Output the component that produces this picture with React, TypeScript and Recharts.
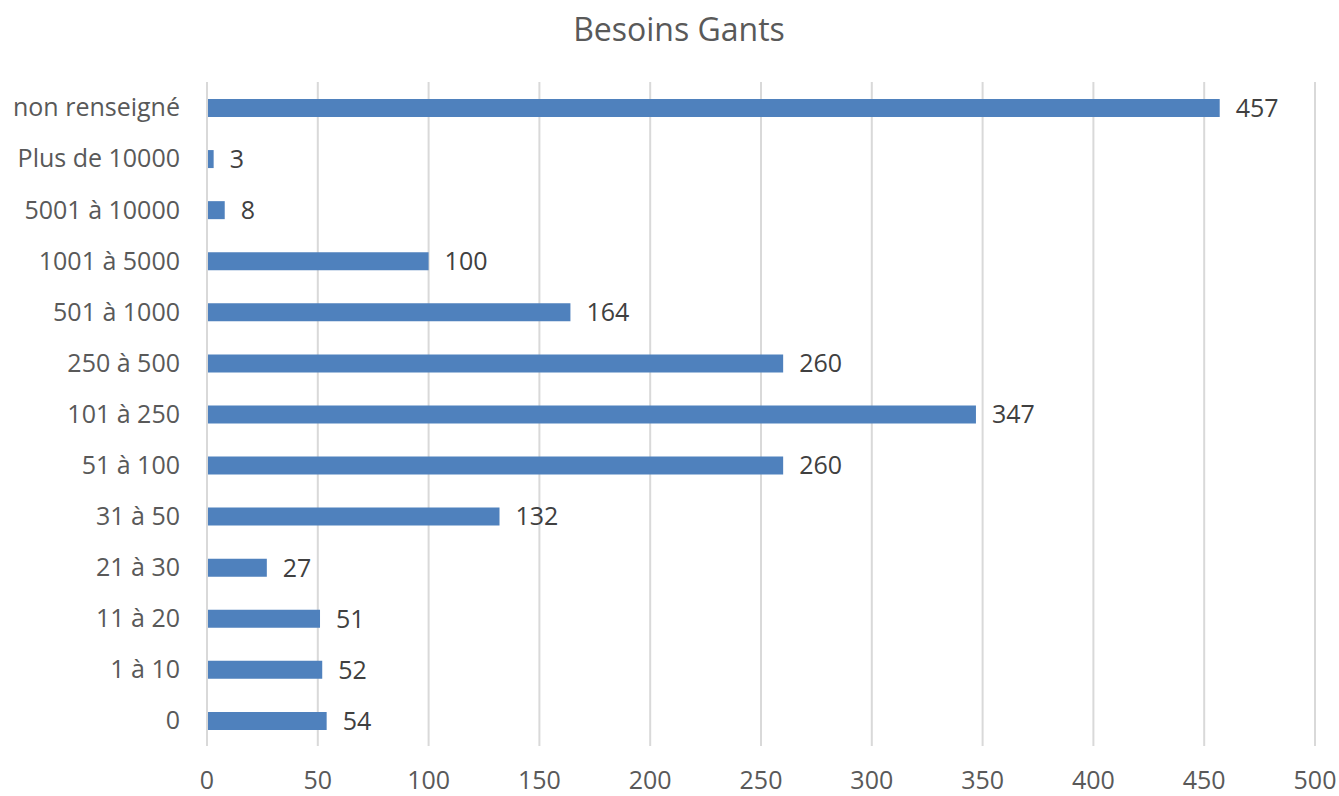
import { BarChart, Bar, XAxis, YAxis, CartesianGrid, LabelList } from "recharts";

const categories = [
  "non renseigné",
  "Plus de 10000",
  "5001 à 10000",
  "1001 à 5000",
  "501 à 1000",
  "250 à 500",
  "101 à 250",
  "51 à 100",
  "31 à 50",
  "21 à 30",
  "11 à 20",
  "1 à 10",
  "0",
];
const values = [457, 3, 8, 100, 164, 260, 347, 260, 132, 27, 51, 52, 54];
const xTicks = [0, 50, 100, 150, 200, 250, 300, 350, 400, 450, 500];

const data = categories.map((c, i) => ({ cat: c, value: values[i] }));

const font = "'Open Sans', 'Noto Sans', sans-serif";

export default function App() {
  return (
    <div style={{ position: "absolute", left: 0, top: 0, width: 1339, height: 796, background: "#fff" }}>
      <div
        style={{
          position: "absolute",
          top: 7,
          left: 0,
          width: 1358,
          textAlign: "center",
          fontFamily: font,
          fontSize: 32,
          color: "#595959",
        }}
      >
        Besoins Gants
      </div>
      <BarChart
        width={1339}
        height={796}
        data={data}
        layout="vertical"
        margin={{ top: 82, right: 24, left: 0, bottom: 0 }}
      >
        <CartesianGrid horizontal={false} stroke="#d9d9d9" strokeWidth={2} />
        <XAxis
          type="number"
          domain={[0, 500]}
          ticks={xTicks}
          axisLine={false}
          tickLine={false}
          tickSize={0}
          tickMargin={25}
          height={50}
          tick={{ fill: "#595959", fontSize: 25, fontFamily: font }}
        />
        <YAxis
          type="category"
          dataKey="cat"
          width={207}
          axisLine={{ stroke: "#d9d9d9", strokeWidth: 2 }}
          tickLine={false}
          tickSize={0}
          tickMargin={27}
          interval={0}
          tick={{ fill: "#595959", fontSize: 25, fontFamily: font }}
        />
        <Bar dataKey="value" fill="#4f81bd" barSize={18} isAnimationActive={false}>
          <LabelList
            dataKey="value"
            position="right"
            offset={16}
            style={{ fill: "#404040", fontSize: 25, fontFamily: font }}
          />
        </Bar>
      </BarChart>
    </div>
  );
}
